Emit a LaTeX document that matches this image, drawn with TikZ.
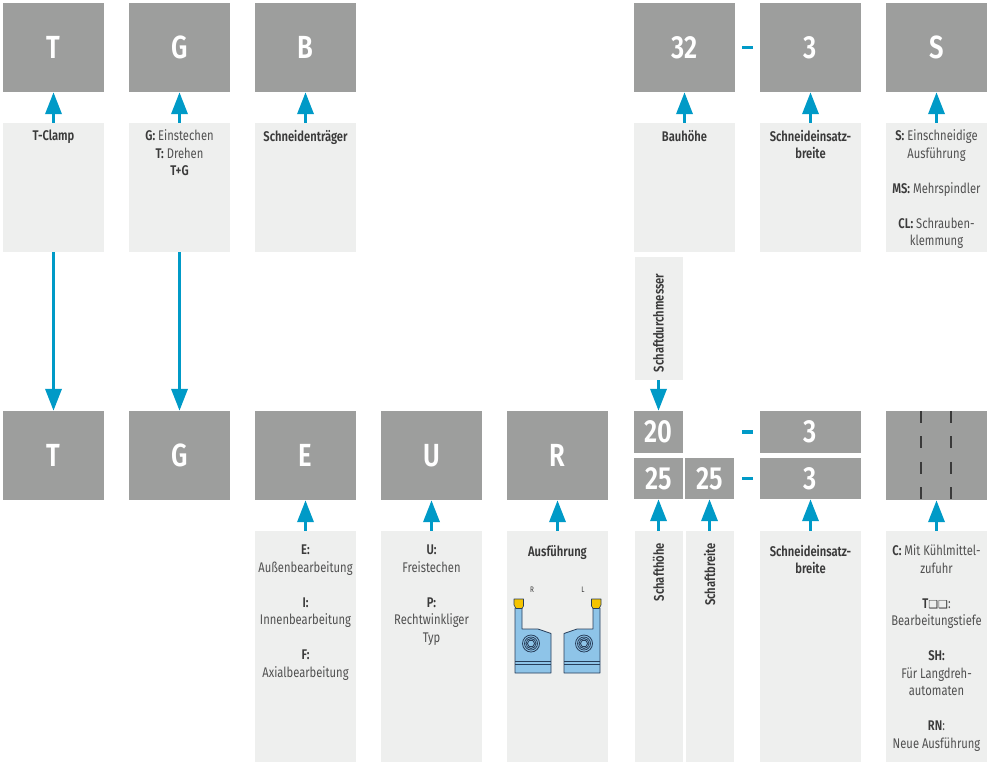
\documentclass[tikz,border=0pt]{standalone}
\usepackage{fontspec}
\setmainfont[FakeStretch=0.8,BoldFont={Fira Sans SemiBold}]{Fira Sans}
\newfontfamily\symfont{DejaVu Sans}
\usetikzlibrary{arrows.meta,positioning}

\definecolor{codegray}{RGB}{157,158,157}
\definecolor{descgray}{RGB}{238,239,238}
\definecolor{linkblue}{RGB}{0,154,199}
\definecolor{textdark}{RGB}{58,58,58}
\definecolor{textgray}{RGB}{80,80,80}
\definecolor{holderblue}{RGB}{142,196,232}
\definecolor{holderline}{RGB}{40,62,90}
\definecolor{insertyellow}{RGB}{245,196,0}

% bold key letter in the descriptions
\newcommand{\key}[1]{\textbf{\color{textdark}#1}}
\newcommand{\hole}{{\symfont\fontsize{11}{11}\selectfont\char"2751}}

\begin{document}
\begin{tikzpicture}[x=1pt,y=-1pt,line join=round]
	\tikzset{codebox/.style={fill=codegray,text=white,inner sep=0pt,minimum width=101pt,minimum height=89pt,font=\fontsize{32}{32}\selectfont\bfseries},
		halfbox/.style={codebox,minimum height=42pt},
		descbox/.style={fill=descgray,inner sep=0pt,minimum width=101pt},
		desctext/.style={inner sep=0pt,align=center,text=textgray,font=\fontsize{14}{17.5}\selectfont},
		link/.style={draw=linkblue,line width=3.5pt,-{Triangle[length=22pt,width=16pt]}},
		sep/.style={draw=linkblue,line width=3.5pt},
		slot/.style={draw=textdark,line width=2.5pt,dash pattern=on 12pt off 13.5pt},
		holder/.style={draw=holderline,fill=holderblue,line width=0.8pt},
		insert/.style={draw=holderline,fill=insertyellow,line width=0.6pt}}
	\useasboundingbox (0,0) rectangle (992,763);
	% upper code
	\node[codebox] (t1) at (53.5,47.5) {T};
	\node[codebox] (t2) at (179.5,47.5) {G};
	\node[codebox] (t3) at (305.5,47.5) {B};
	\node[codebox] (t6) at (684.5,47.5) {32};
	\node[codebox] (t7) at (810.5,47.5) {3};
	\node[codebox] (t8) at (936.5,47.5) {S};
	\draw[sep] (742,47.5)--(753,47.5);
	% upper descriptions
	\node[descbox,minimum height=129pt] (dt1) at (53.5,187.5) {};
	\node[descbox,minimum height=129pt] (dt2) at (179.5,187.5) {};
	\node[descbox,minimum height=129pt] (dt3) at (305.5,187.5) {};
	\node[descbox,minimum height=129pt] (dt6) at (684.5,187.5) {};
	\node[descbox,minimum height=129pt] (dt7) at (810.5,187.5) {};
	\node[descbox,minimum height=129pt] (dt8) at (936.5,187.5) {};
	\node[desctext,below=7pt of dt1.north] {\key{T-Clamp}};
	\node[desctext,below=7pt of dt2.north] {\key{G:} Einstechen\\ \key{T:} Drehen\\ \key{T+G}};
	\node[desctext,below=7pt of dt3.north] {\key{Schneidenträger}};
	\node[desctext,below=7pt of dt6.north] {\key{Bauhöhe}};
	\node[desctext,below=7pt of dt7.north] {\key{Schneideinsatz-}\\ \key{breite}};
	\node[desctext,below=7pt of dt8.north] {\key{S:} Einschneidige\\ Ausführung\\[17.5pt] \key{MS:} Mehrspindler\\[17.5pt] \key{CL:} Schrauben-\\ klemmung};
	\foreach \i in {1,2,3,6,7,8}
		\draw[link] (dt\i.north)--(t\i.south);
	% shank diameter
	\node[descbox,minimum width=48pt,minimum height=123pt] (dsd) at (658.5,318.5) {};
	\node[desctext,rotate=90,anchor=west] at ([yshift=8pt]dsd.south) {\key{Schaftdurchmesser}};

	% lower code
	\node[codebox] (b1) at (53.5,455.5) {T};
	\node[codebox] (b2) at (179.5,455.5) {G};
	\node[codebox] (b3) at (305.5,455.5) {E};
	\node[codebox] (b4) at (431.5,455.5) {U};
	\node[codebox] (b5) at (557.5,455.5) {R};
	\node[halfbox,minimum width=49pt] (b20) at (658.5,432) {20};
	\node[halfbox,minimum width=49pt,minimum height=41pt] (b25h) at (658.5,478.5) {25};
	\node[halfbox,minimum width=49pt,minimum height=41pt] (b25w) at (709.5,478.5) {25};
	\node[halfbox] (b3a) at (810.5,432) {3};
	\node[halfbox,minimum height=41pt] (b3b) at (810.5,478.5) {3};
	\node[codebox] (b8) at (936.5,455.5) {};
	\draw[slot] ([xshift=-15.5pt]b8.north)--([xshift=-15.5pt]b8.south);
	\draw[slot] ([xshift=14.5pt]b8.north)--([xshift=14.5pt]b8.south);
	\draw[sep] (742,432)--(753,432);
	\draw[sep] (742,478.5)--(753,478.5);
	\draw[link] (dt1.south)--(b1.north);
	\draw[link] (dt2.south)--(b2.north);
	\draw[link] (dsd.south)--(b20.north);
	% lower descriptions
	\node[descbox,minimum height=231pt] (db3) at (305.5,646.5) {};
	\node[descbox,minimum height=231pt] (db4) at (431.5,646.5) {};
	\node[descbox,minimum height=231pt] (db5) at (557.5,646.5) {};
	\node[descbox,minimum width=48pt,minimum height=231pt] (dsh) at (658.5,646.5) {};
	\node[descbox,minimum width=48pt,minimum height=231pt] (dsb) at (709.5,646.5) {};
	\node[descbox,minimum height=231pt] (db7) at (810.5,646.5) {};
	\node[descbox,minimum height=231pt] (db8) at (936.5,646.5) {};
	\node[desctext,below=14pt of db3.north] {\key{E:}\\ Außenbearbeitung\\[17.5pt] \key{I:}\\ Innenbearbeitung\\[17.5pt] \key{F:}\\ Axialbearbeitung};
	\node[desctext,below=14pt of db4.north] {\key{U:}\\ Freistechen\\[17.5pt] \key{P:}\\ Rechtwinkliger\\ Typ};
	\node[desctext,below=14pt of db5.north] {\key{Ausführung}};
	\node[desctext,rotate=90,anchor=east] at ([yshift=-12pt]dsh.north) {\key{Schafthöhe}};
	\node[desctext,rotate=90,anchor=east] at ([yshift=-12pt]dsb.north) {\key{Schaftbreite}};
	\node[desctext,below=14pt of db7.north] {\key{Schneideinsatz-}\\ \key{breite}};
	\node[desctext,below=14pt of db8.north] {\key{C:} Mit Kühlmittel-\\ zufuhr\\[17.5pt] \key{T}{\color{textdark}\hole\hole}:\\ Bearbeitungstiefe\\[17.5pt] \key{SH:}\\ Für Langdreh-\\ automaten\\[17.5pt] \key{RN}:\\ Neue Ausführung};
	\draw[link] (db3.north)--(b3.south);
	\draw[link] (db4.north)--(b4.south);
	\draw[link] (db5.north)--(b5.south);
	\draw[link] (dsh.north)--(b25h.south);
	\draw[link] (dsb.north)--(b25w.south);
	\draw[link] (db7.north)--(b3b.south);
	\draw[link] (db8.north)--(b8.south);

	% right and left hand holders
	\node[text=textdark,font=\fontsize{8}{8}\selectfont] (hr) at (532,590) {R};
	\node[text=textdark,font=\fontsize{8}{8}\selectfont] (hl) at (583,590) {L};
	\foreach \s in {1,-1}{
		\begin{scope}[shift={(557.5,0)},xscale=\s,shift={(-557.5,0)}]
			\draw[holder] (515,608)--(515,673)--(551,673)--(551,633.5)--(538,629)--(522,629)--(522,608)--cycle;
			\draw[draw=holderline,line width=0.8pt] (515,661)--(551,661) (515,664.5)--(551,664.5);
			\draw[insert] (514,599)--(523.5,599)--(523.5,606)--(522,608.5)--(516,608.5)--(514,605)--cycle;
			\draw[draw=holderline,line width=0.8pt] (531,643.5) circle (8.5pt) circle (6.5pt) circle (5pt);
			\draw[draw=holderline,line width=0.8pt,shift={(531,643.5)}] (0:3.6pt)--(60:3.6pt)--(120:3.6pt)--(180:3.6pt)--(240:3.6pt)--(300:3.6pt)--cycle;
		\end{scope}
	}
\end{tikzpicture}
\end{document}
